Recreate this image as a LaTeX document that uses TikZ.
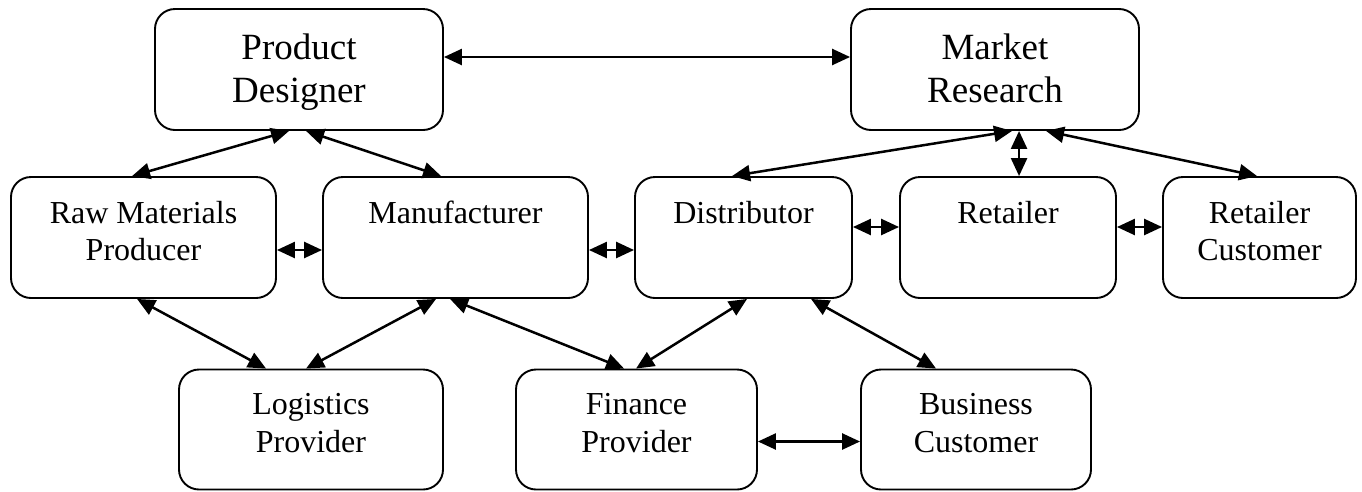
\documentclass[tikz,border=0pt]{standalone}
\usepackage{fontspec}
\setmainfont{Liberation Serif}
\usetikzlibrary{arrows.meta}
\begin{document}
\begin{tikzpicture}[x=1pt,y=-1pt,
  box/.style={draw, line width=1.9pt, rounded corners=20pt, inner sep=0pt},
  lbl/.style={anchor=base, inner sep=0pt, font=\fontsize{32}{37}\selectfont},
  biglbl/.style={anchor=base, inner sep=0pt, font=\fontsize{37}{43}\selectfont},
  link/.style={line width=2.5pt, {Triangle[length=18pt,width=16pt]}-{Triangle[length=18pt,width=16pt]}}]
\useasboundingbox (0,0) rectangle (1362,491);

% boxes
\node[box, minimum width=288pt, minimum height=121pt] (pd) at (299,69.5) {};
\node[box, minimum width=288pt, minimum height=121pt] (mr) at (995,69.5) {};
\node[box, minimum width=265pt, minimum height=121pt] (rm) at (143.5,237.5) {};
\node[box, minimum width=265pt, minimum height=121pt] (mf) at (455.5,237.5) {};
\node[box, minimum width=217pt, minimum height=121pt] (di) at (743.5,237.5) {};
\node[box, minimum width=216pt, minimum height=121pt] (re) at (1008,237.5) {};
\node[box, minimum width=193pt, minimum height=121pt] (rc) at (1259.5,237.5) {};
\node[box, minimum width=264pt, minimum height=120pt] (lp) at (311,429.5) {};
\node[box, minimum width=241pt, minimum height=120pt] (fp) at (636.5,429.5) {};
\node[box, minimum width=230pt, minimum height=120pt] (bc) at (976,429.5) {};

% labels
\node[biglbl] (pd1) at (299,59) {Product};
\node[biglbl] (pd2) at (299,102) {Designer};
\node[biglbl] (mr1) at (995,59) {Market};
\node[biglbl] (mr2) at (995,102) {Research};
\node[lbl] (rm1) at (143.5,223) {Raw Materials};
\node[lbl] (rm2) at (143.5,260) {Producer};
\node[lbl] (mf1) at (455.5,223) {Manufacturer};
\node[lbl] (di1) at (743.5,223) {Distributor};
\node[lbl] (re1) at (1008,223) {Retailer};
\node[lbl] (rc1) at (1259.5,223) {Retailer};
\node[lbl] (rc2) at (1259.5,260) {Customer};
\node[lbl] (lp1) at (311,414) {Logistics};
\node[lbl] (lp2) at (311,452) {Provider};
\node[lbl] (fp1) at (636.5,414) {Finance};
\node[lbl] (fp2) at (636.5,452) {Provider};
\node[lbl] (bc1) at (976,414) {Business};
\node[lbl] (bc2) at (976,452) {Customer};

% connectors
\draw[link] ([yshift=12.5pt]pd.east) -- ([yshift=12.5pt]mr.west);
\draw[link] ([xshift=135pt]pd.south west) -- ([xshift=122pt]rm.north west);
\draw[link] ([xshift=152pt]pd.south west) -- ([xshift=119pt]mf.north west);
\draw[link] ([xshift=162pt]mr.south west) -- ([xshift=98pt]di.north west);
\draw[link] ([xshift=169pt]mr.south west) -- ([xshift=120pt]re.north west);
\draw[link] ([xshift=196pt]mr.south west) -- ([xshift=95pt]rc.north west);
\draw[link] ([yshift=-12.5pt]rm.east) -- ([yshift=-12.5pt]mf.west);
\draw[link] ([yshift=-12.5pt]mf.east) -- ([yshift=-12.5pt]di.west);
\draw[link] ([yshift=10.5pt]di.east) -- ([yshift=10.5pt]re.west);
\draw[link] ([yshift=10.5pt]re.east) -- ([yshift=10.5pt]rc.west);
\draw[link] ([xshift=127pt]rm.south west) -- ([xshift=88pt]lp.north west);
\draw[link] ([xshift=114pt]mf.south west) -- ([xshift=128pt]lp.north west);
\draw[link] ([xshift=128pt]mf.south west) -- ([xshift=109pt]fp.north west);
\draw[link] ([xshift=113pt]di.south west) -- ([xshift=121pt]fp.north west);
\draw[link] ([xshift=177pt]di.south west) -- ([xshift=76pt]bc.north west);
\draw[link] ([yshift=-12pt]fp.east) -- ([yshift=-12pt]bc.west);
\end{tikzpicture}
\end{document}
